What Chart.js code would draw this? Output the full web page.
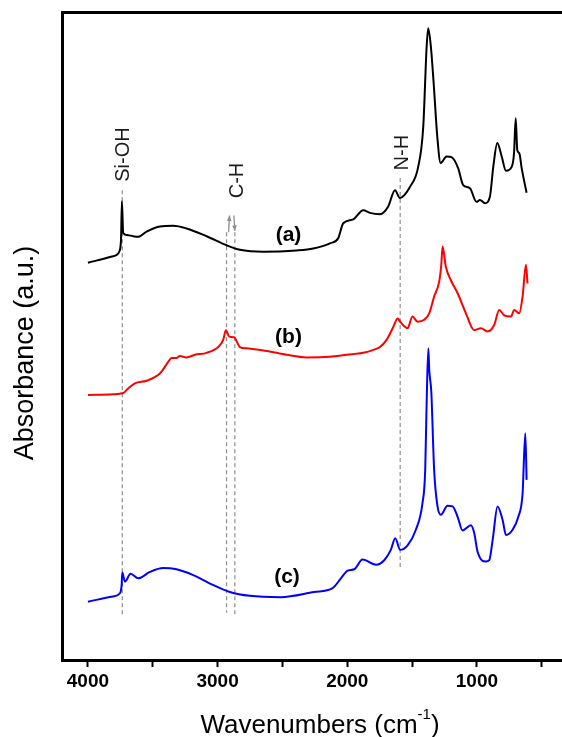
<!DOCTYPE html>
<html>
<head>
<meta charset="utf-8">
<title>FTIR spectra</title>
<script src="https://cdn.jsdelivr.net/npm/chart.js@4.4.1/dist/chart.umd.min.js"></script>
<style>
  html, body { margin: 0; padding: 0; background: #fff; overflow: hidden; }
  canvas { display: block; }
</style>
</head>
<body>
<canvas id="ftir-chart" width="562" height="737"></canvas>
<script>
  'use strict';

  // spectrum (a) - black
  var wavenumbersA = [4000, 3830, 3779, 3759, 3745, 3738, 3728, 3702, 3651, 3613, 3548, 3445, 3342, 3240, 3085,
    2931, 2828, 2648, 2391, 2262, 2134, 2070, 2031, 1954, 1877, 1825, 1748, 1684, 1632, 1594, 1517, 1453, 1414,
    1388, 1376, 1355, 1332, 1306, 1280, 1234, 1196, 1145, 1106, 1054, 1003, 977, 938, 900, 874, 843, 809, 776,
    732, 714, 701, 689, 673, 655, 617];
  var absorbanceA = [61.3, 62.2, 62.5, 63.0, 64.8, 70.8, 65.9, 65.6, 65.4, 65.3, 66.1, 66.9, 67.0, 66.6, 65.4,
    64.0, 63.3, 63.0, 63.2, 63.5, 64.3, 65.1, 67.4, 68.0, 69.4, 69.0, 68.8, 70.0, 72.5, 71.3, 73.0, 76.1, 82.3,
    94.6, 97.5, 94.6, 88.5, 80.8, 76.7, 77.7, 77.6, 75.9, 73.3, 72.8, 70.7, 71.0, 70.5, 71.5, 76.1, 79.8, 77.7, 75.5,
    76.1, 78.2, 83.6, 78.7, 78.2, 75.9, 72.1];

  // spectrum (b) - red
  var wavenumbersB = [4000, 3807, 3728, 3690, 3638, 3548, 3445, 3381, 3355, 3317, 3291, 3240, 3175, 3085, 2995,
    2957, 2936, 2910, 2874, 2828, 2776, 2622, 2468, 2314, 2134, 2005, 1877, 1793, 1748, 1697, 1645, 1612, 1592,
    1560, 1535, 1497, 1458, 1407, 1368, 1330, 1291, 1275, 1265, 1240, 1201, 1149, 1085, 1021, 969, 918, 867, 828,
    790, 738, 712, 674, 648, 622, 610];
  var absorbanceB = [40.9, 41.0, 41.2, 41.9, 42.7, 43.1, 44.2, 46.0, 46.6, 46.6, 46.9, 46.7, 47.1, 47.4, 48.3,
    49.4, 50.9, 49.9, 49.8, 48.3, 48.1, 47.7, 47.1, 46.7, 46.8, 47.1, 47.4, 47.9, 48.3, 49.4, 51.4, 52.7, 52.2,
    51.5, 51.2, 53.0, 52.2, 52.5, 53.5, 56.1, 58.4, 61.0, 63.8, 60.7, 58.6, 56.6, 53.5, 50.9, 51.2, 50.7, 51.7, 54.0,
    53.2, 53.0, 54.0, 53.5, 56.1, 61.0, 58.1];

  // spectrum (c) - blue
  var wavenumbersC = [4000, 3807, 3753, 3740, 3735, 3715, 3671, 3612, 3522, 3419, 3317, 3188, 3059, 2905, 2751,
    2512, 2255, 2113, 2049, 1997, 1946, 1882, 1779, 1715, 1664, 1630, 1592, 1535, 1471, 1420, 1399, 1388, 1375,
    1368, 1352, 1330, 1304, 1278, 1227, 1188, 1149, 1111, 1046, 1021, 995, 931, 905, 879, 841, 802, 776, 725,
    681, 648, 627, 617];
  var absorbanceC = [9.0, 9.8, 10.3, 11.6, 13.5, 12.1, 13.3, 12.6, 13.6, 14.2, 14.0, 13.1, 11.8, 10.5, 9.9,
    9.7, 10.5, 11.1, 12.6, 13.8, 14.0, 15.5, 14.7, 15.4, 17.0, 18.8, 17.0, 17.7, 20.1, 24.2, 29.3, 39.6, 48.1,
    44.8, 41.4, 29.3, 23.7, 22.4, 23.8, 23.7, 22.1, 20.0, 20.8, 19.6, 16.7, 15.2, 15.4, 18.5, 23.7, 21.6, 19.3, 20.1,
    22.1, 25.7, 35.0, 27.8];

  // x axis ticks (only the thousands carry a label)
  var xTickValues = [500, 1000, 1500, 2000, 2500, 3000, 3500, 4000];
  var xTickLabels = ['', '1000', '', '2000', '', '3000', '', '4000'];

  // dashed band marker lines
  var markerWavenumbers = [3735, 2931, 2867, 1592];
  var markerTops = [72.5, 66.0, 66.0, 74.4];
  var markerBottoms = [6.6, 7.3, 6.6, 13.9];

  // band names
  var bandNames = ['Si-OH', 'C-H', 'N-H'];
  var bandLabelWavenumbers = [3722, 2850, 1578];
  var bandLabelLevels = [78.0, 74.0, 78.3];

  // spectrum names
  var curveNames = ['(a)', '(b)', '(c)'];
  var curveLabelWavenumbers = [2453, 2453, 2465];
  var curveLabelLevels = [65.6, 49.8, 12.8];

  var FONT = '"Liberation Sans", Arial, Helvetica, sans-serif';

  function toPoints(xs, ys) {
    var pts = [];
    for (var i = 0; i < xs.length; i++) {
      pts.push({ x: xs[i], y: ys[i] });
    }
    return pts;
  }

  function spectrum(label, xs, ys, color) {
    return {
      label: label,
      data: toPoints(xs, ys),
      borderColor: color,
      borderWidth: 2,
      pointRadius: 0,
      fill: false,
      cubicInterpolationMode: 'monotone',
      order: 0
    };
  }

  var datasets = [
    spectrum('(a)', wavenumbersA, absorbanceA, '#000000'),
    spectrum('(b)', wavenumbersB, absorbanceB, '#ff0000'),
    spectrum('(c)', wavenumbersC, absorbanceC, '#0000ff')
  ];

  for (var m = 0; m < markerWavenumbers.length; m++) {
    datasets.push({
      label: 'marker' + m,
      data: [
        { x: markerWavenumbers[m], y: markerTops[m] },
        { x: markerWavenumbers[m], y: markerBottoms[m] }
      ],
      borderColor: '#8e8e8e',
      borderWidth: 1.2,
      borderDash: [4, 3],
      pointRadius: 0,
      fill: false,
      order: 1
    });
  }

  function arrow(ctx, x1, y1, x2, y2) {
    var a = Math.atan2(y2 - y1, x2 - x1);
    ctx.beginPath();
    ctx.moveTo(x1, y1);
    ctx.lineTo(x2, y2);
    ctx.stroke();
    ctx.beginPath();
    ctx.moveTo(x2, y2);
    ctx.lineTo(x2 - 6 * Math.cos(a - 0.4), y2 - 6 * Math.sin(a - 0.4));
    ctx.lineTo(x2 - 6 * Math.cos(a + 0.4), y2 - 6 * Math.sin(a + 0.4));
    ctx.closePath();
    ctx.fill();
  }

  var annotations = {
    id: 'annotations',
    afterDatasetsDraw: function(chart) {
      var ctx = chart.ctx;
      var xs = chart.scales.x;
      var ys = chart.scales.y;
      var i;

      ctx.save();
      // rotated band names
      ctx.fillStyle = '#1a1a1a';
      ctx.font = '20px ' + FONT;
      ctx.textAlign = 'center';
      ctx.textBaseline = 'middle';
      for (i = 0; i < bandNames.length; i++) {
        ctx.save();
        ctx.translate(xs.getPixelForValue(bandLabelWavenumbers[i]), ys.getPixelForValue(bandLabelLevels[i]));
        ctx.rotate(-Math.PI / 2);
        ctx.fillText(bandNames[i], 0, 0);
        ctx.restore();
      }

      // C-H arrows
      ctx.strokeStyle = '#8e8e8e';
      ctx.fillStyle = '#8e8e8e';
      ctx.lineWidth = 1.3;
      var xl = xs.getPixelForValue(2931) + 2;
      var xr = xs.getPixelForValue(2867);
      arrow(ctx, xl, ys.getPixelForValue(66.0), xl + 1, ys.getPixelForValue(68.6));
      arrow(ctx, xr - 1, ys.getPixelForValue(68.6), xr, ys.getPixelForValue(66.2));

      // spectrum names
      ctx.fillStyle = '#000';
      ctx.font = 'bold 21px ' + FONT;
      for (i = 0; i < curveNames.length; i++) {
        ctx.fillText(curveNames[i], xs.getPixelForValue(curveLabelWavenumbers[i]), ys.getPixelForValue(curveLabelLevels[i]));
      }
      ctx.restore();
    },
    afterDraw: function(chart) {
      var ctx = chart.ctx;
      ctx.save();
      ctx.fillStyle = '#000';

      // y title
      ctx.font = '27px ' + FONT;
      ctx.textAlign = 'center';
      ctx.textBaseline = 'alphabetic';
      ctx.save();
      ctx.translate(33, 353);
      ctx.rotate(-Math.PI / 2);
      ctx.fillText('Absorbance (a.u.)', 0, 0);
      ctx.restore();

      // x title with superscript
      var main = 'Wavenumbers (cm';
      var sup = '-1';
      var tail = ')';
      ctx.textAlign = 'left';
      ctx.font = '26px ' + FONT;
      var w1 = ctx.measureText(main).width;
      var w3 = ctx.measureText(tail).width;
      ctx.font = '15px ' + FONT;
      var w2 = ctx.measureText(sup).width;
      var x0 = 320 - (w1 + w2 + w3) / 2;
      ctx.font = '26px ' + FONT;
      ctx.fillText(main, x0, 733);
      ctx.fillText(tail, x0 + w1 + w2, 733);
      ctx.font = '15px ' + FONT;
      ctx.fillText(sup, x0 + w1, 719);
      ctx.restore();
    }
  };

  var ctx = document.getElementById('ftir-chart').getContext('2d');
  var ftirChart = new Chart(ctx, {
    type: 'line',
    data: { datasets: datasets },
    options: {
      responsive: false,
      animation: false,
      layout: { padding: 0 },
      plugins: {
        legend: { display: false },
        tooltip: { enabled: false }
      },
      scales: {
        x: {
          type: 'linear',
          position: 'bottom',
          reverse: true,
          min: 344,
          max: 4200,
          afterBuildTicks: function(scale) {
            scale.ticks = xTickValues.map(function(v) { return { value: v }; });
          },
          afterFit: function(scale) { scale.height = 77; },
          ticks: {
            autoSkip: false,
            maxRotation: 0,
            padding: 3,
            color: '#000',
            font: { family: FONT, size: 19, weight: 'bold' },
            callback: function(value) {
              var idx = xTickValues.indexOf(value);
              return idx >= 0 ? xTickLabels[idx] : '';
            }
          },
          grid: {
            display: true,
            drawOnChartArea: false,
            drawTicks: true,
            tickLength: 7,
            tickWidth: 2,
            tickColor: '#000'
          },
          border: { display: true, width: 3, color: '#000' }
        },
        xTop: {
          type: 'linear',
          position: 'top',
          reverse: true,
          min: 344,
          max: 4200,
          afterFit: function(scale) { scale.height = 12; },
          ticks: { display: false },
          grid: { display: false },
          border: { display: true, width: 3, color: '#000' }
        },
        y: {
          type: 'linear',
          position: 'left',
          min: 0,
          max: 100,
          afterFit: function(scale) { scale.width = 62; },
          ticks: { display: false },
          grid: { display: false },
          border: { display: true, width: 3, color: '#000' }
        }
      }
    },
    plugins: [annotations]
  });
</script>
</body>
</html>
